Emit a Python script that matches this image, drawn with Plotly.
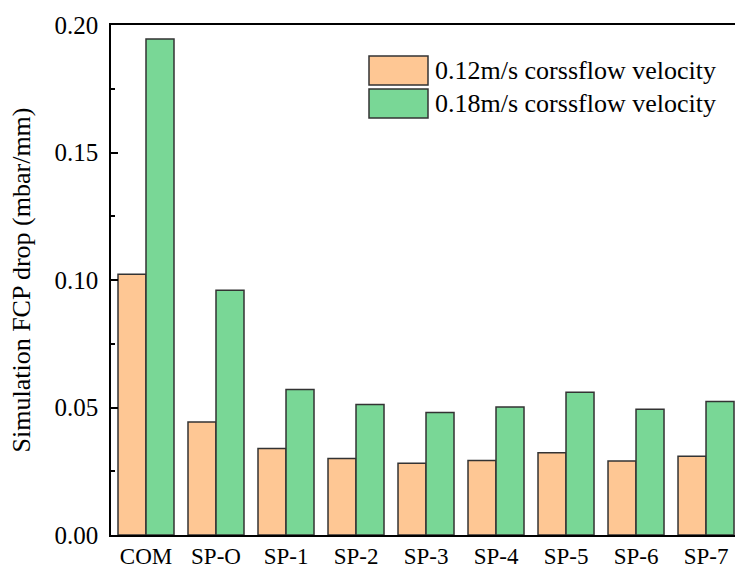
import plotly.graph_objects as go

categories = ["COM", "SP-O", "SP-1", "SP-2", "SP-3", "SP-4", "SP-5", "SP-6", "SP-7"]
v012 = [0.1023, 0.0443, 0.0339, 0.0300, 0.0281, 0.0292, 0.0323, 0.0290, 0.0309]
v018 = [0.1945, 0.0960, 0.0571, 0.0512, 0.0480, 0.0502, 0.0560, 0.0493, 0.0524]
series_names = ["0.12m/s corssflow velocity", "0.18m/s corssflow velocity"]
y_ticks = [0.00, 0.05, 0.10, 0.15, 0.20]

orange = "#FEC794"
green = "#79D796"
edge = "#333333"
font_family = "Liberation Serif, Times New Roman, serif"

fig = go.Figure()
fig.add_trace(go.Bar(x=categories, y=v012, name=series_names[0],
                     marker=dict(color=orange, line=dict(color=edge, width=1.5))))
fig.add_trace(go.Bar(x=categories, y=v018, name=series_names[1],
                     marker=dict(color=green, line=dict(color=edge, width=1.5))))

fig.update_layout(
    width=735, height=569,
    margin=dict(l=111, r=0, t=25, b=34, autoexpand=False),
    paper_bgcolor="white", plot_bgcolor="white",
    barmode="group", bargap=0.2, bargroupgap=0,
    showlegend=False,
    font=dict(family=font_family, size=23, color="black"),
)
fig.update_xaxes(
    range=[-0.5, 8.414], showline=True, linecolor="black", linewidth=1.5,
    mirror=True, ticks="", showgrid=False, zeroline=False, automargin=False,
    tickfont=dict(size=23, family=font_family), ticklabelstandoff=0,
)
fig.update_yaxes(
    range=[0, 0.2], tickvals=y_ticks, tickformat=".2f",
    showline=True, linecolor="black", linewidth=1.5,
    ticks="inside", ticklen=7, tickwidth=1.5, tickcolor="black",
    minor=dict(ticks="inside", ticklen=4, tickwidth=1.5, dtick=0.025, tickcolor="black", showgrid=False),
    showgrid=False, zeroline=False, automargin=False,
    tickfont=dict(size=25, family=font_family), ticklabelstandoff=6,
    title=dict(text="Simulation FCP drop (mbar/mm)", font=dict(size=26, family=font_family), standoff=16),
)

# custom legend (large swatches like the reference)
legend_items = [(series_names[0], orange), (series_names[1], green)]
x0_px, y0_px = 369 - 111, 56 - 25
sw_w, sw_h, row_h = 59, 29, 33
pw, ph = 735 - 111, 569 - 25 - 34
for i, (name, col) in enumerate(legend_items):
    top = y0_px + i * row_h
    fig.add_shape(type="rect", xref="paper", yref="paper",
                  x0=x0_px / pw, x1=(x0_px + sw_w) / pw,
                  y0=1 - (top + sw_h) / ph, y1=1 - top / ph,
                  fillcolor=col, line=dict(color=edge, width=1.5))
    fig.add_annotation(xref="paper", yref="paper",
                       x=(x0_px + sw_w + 5) / pw, y=1 - (top + sw_h / 2) / ph,
                       xanchor="left", yanchor="middle", showarrow=False,
                       text=name, font=dict(size=26, family=font_family))

fig.write_html("out.html")
